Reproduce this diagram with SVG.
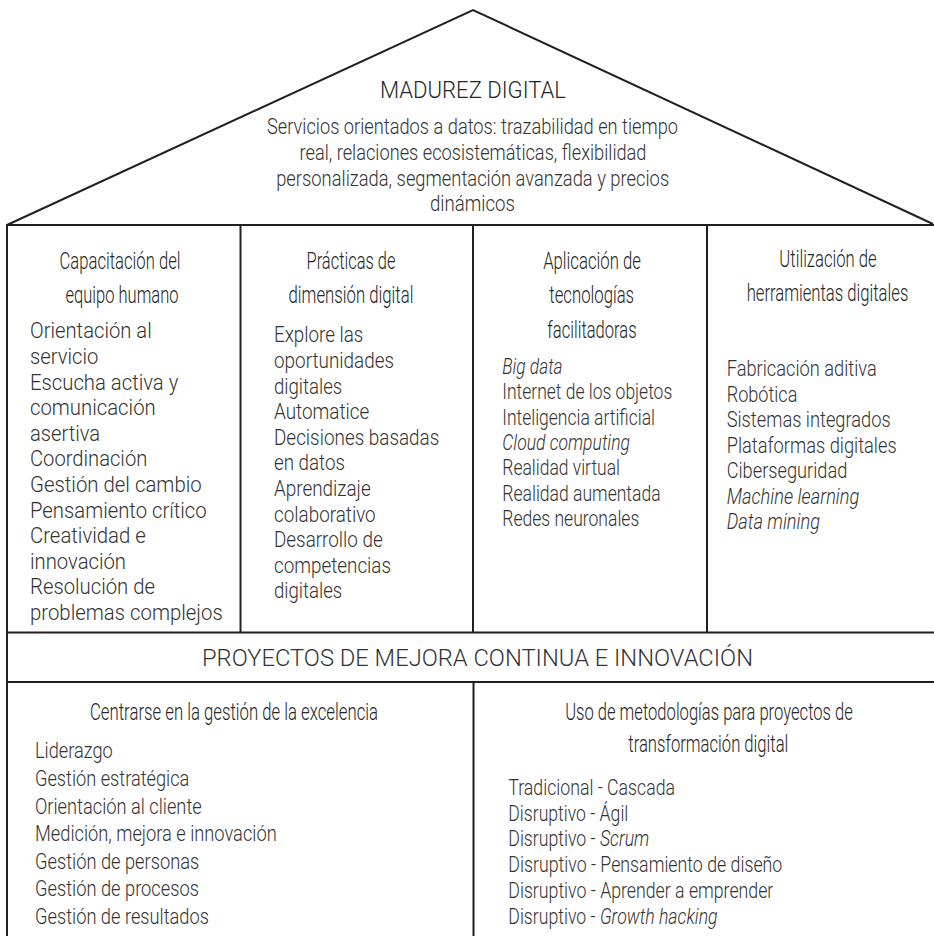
<svg xmlns="http://www.w3.org/2000/svg" width="934" height="936" viewBox="0 0 934 936">
<style>
text{font-family:Roboto,"Liberation Sans",sans-serif;font-weight:300;fill:#333;font-size:21.5px}
.h{text-anchor:middle;font-size:23px;fill:#262626}
.r{text-anchor:middle;font-size:22.5px}
.b{font-size:21.5px}
.it{font-style:italic}
.big{font-size:24px;text-anchor:middle}
.ln{stroke:#231f20;stroke-width:2;fill:none}
</style>
<rect width="934" height="936" fill="#fff"/>
<g id="connectors">
<polyline class="ln" points="7,225 473,10 933,224"/>
<line class="ln" x1="6" y1="225" x2="934" y2="225"/>
<line class="ln" x1="7" y1="224" x2="7" y2="936"/>
<line class="ln" x1="240.5" y1="225" x2="240.5" y2="632"/>
<line class="ln" x1="473" y1="225" x2="473" y2="632"/>
<line class="ln" x1="707" y1="225" x2="707" y2="632"/>
<line class="ln" x1="7" y1="632.5" x2="934" y2="632.5"/>
<line class="ln" x1="7" y1="682" x2="934" y2="682"/>
<line class="ln" x1="473.5" y1="682" x2="473.5" y2="936"/>
</g>
<g id="roof">
<text class="r" x="473" y="98" style="font-size:23.5px;fill:#262626" textLength="186" lengthAdjust="spacingAndGlyphs">MADUREZ DIGITAL</text>
<text class="r" x="472.5" y="134" textLength="411" lengthAdjust="spacingAndGlyphs">Servicios orientados a datos: trazabilidad en tiempo</text>
<text class="r" x="473" y="160" textLength="347" lengthAdjust="spacingAndGlyphs">real, relaciones ecosistemáticas, flexibilidad</text>
<text class="r" x="472.7" y="185.5" textLength="393" lengthAdjust="spacingAndGlyphs">personalizada, segmentación avanzada y precios</text>
<text class="r" x="472.5" y="210.5" textLength="85" lengthAdjust="spacingAndGlyphs">dinámicos</text>
</g>
<g id="col1">
<text class="h" x="120" y="269.3" textLength="121" lengthAdjust="spacingAndGlyphs">Capacitación del</text>
<text class="h" x="122" y="302.7" textLength="113" lengthAdjust="spacingAndGlyphs">equipo humano</text>
<text x="30" y="338.3" textLength="121.7" lengthAdjust="spacingAndGlyphs">Orientación al</text>
<text x="30" y="363.9" textLength="68.3" lengthAdjust="spacingAndGlyphs">servicio</text>
<text x="30" y="389.5" textLength="148.3" lengthAdjust="spacingAndGlyphs">Escucha activa y</text>
<text x="30" y="415.1" textLength="125.7" lengthAdjust="spacingAndGlyphs">comunicación</text>
<text x="30" y="440.7" textLength="70" lengthAdjust="spacingAndGlyphs">asertiva</text>
<text x="30" y="466.3" textLength="117.3" lengthAdjust="spacingAndGlyphs">Coordinación</text>
<text x="30" y="491.9" textLength="171.7" lengthAdjust="spacingAndGlyphs">Gestión del cambio</text>
<text x="30" y="517.5" textLength="176.7" lengthAdjust="spacingAndGlyphs">Pensamiento crítico</text>
<text x="30" y="543.1" textLength="115.7" lengthAdjust="spacingAndGlyphs">Creatividad e</text>
<text x="30" y="568.7" textLength="96" lengthAdjust="spacingAndGlyphs">innovación</text>
<text x="30" y="594.3" textLength="125" lengthAdjust="spacingAndGlyphs">Resolución de</text>
<text x="30" y="619.9" textLength="192.7" lengthAdjust="spacingAndGlyphs">problemas complejos</text>
</g>
<g id="col2">
<text class="h" x="351" y="269.3" textLength="89" lengthAdjust="spacingAndGlyphs">Prácticas de</text>
<text class="h" x="351" y="302.7" textLength="125" lengthAdjust="spacingAndGlyphs">dimensión digital</text>
<text x="274" y="342.3" textLength="89.3" lengthAdjust="spacingAndGlyphs">Explore las</text>
<text x="274" y="367.9" textLength="120" lengthAdjust="spacingAndGlyphs">oportunidades</text>
<text x="274" y="393.5" textLength="68.3" lengthAdjust="spacingAndGlyphs">digitales</text>
<text x="274" y="419.1" textLength="95.3" lengthAdjust="spacingAndGlyphs">Automatice</text>
<text x="274" y="444.7" textLength="165.3" lengthAdjust="spacingAndGlyphs">Decisiones basadas</text>
<text x="274" y="470.3" textLength="71" lengthAdjust="spacingAndGlyphs">en datos</text>
<text x="274" y="495.9" textLength="96.7" lengthAdjust="spacingAndGlyphs">Aprendizaje</text>
<text x="274" y="521.5" textLength="101.7" lengthAdjust="spacingAndGlyphs">colaborativo</text>
<text x="274" y="547.1" textLength="108.7" lengthAdjust="spacingAndGlyphs">Desarrollo de</text>
<text x="274" y="572.7" textLength="117" lengthAdjust="spacingAndGlyphs">competencias</text>
<text x="274" y="598.3" textLength="68.3" lengthAdjust="spacingAndGlyphs">digitales</text>
</g>
<g id="col3">
<text class="h" x="592" y="269.3" textLength="97.7" lengthAdjust="spacingAndGlyphs">Aplicación de</text>
<text class="h" x="591.7" y="302.7" textLength="84.7" lengthAdjust="spacingAndGlyphs">tecnologías</text>
<text class="h" x="592" y="338.3" textLength="89.3" lengthAdjust="spacingAndGlyphs">facilitadoras</text>
<text class="it" x="502.3" y="374" textLength="60.3" lengthAdjust="spacingAndGlyphs">Big data</text>
<text x="502.3" y="399.3" textLength="170" lengthAdjust="spacingAndGlyphs">Internet de los objetos</text>
<text x="502.3" y="424.7" textLength="152.7" lengthAdjust="spacingAndGlyphs">Inteligencia artificial</text>
<text class="it" x="502.3" y="450" textLength="127.7" lengthAdjust="spacingAndGlyphs">Cloud computing</text>
<text x="502.3" y="475.3" textLength="117.7" lengthAdjust="spacingAndGlyphs">Realidad virtual</text>
<text x="502.3" y="500.7" textLength="158.3" lengthAdjust="spacingAndGlyphs">Realidad aumentada</text>
<text x="502.3" y="526" textLength="137" lengthAdjust="spacingAndGlyphs">Redes neuronales</text>
</g>
<g id="col4">
<text class="h" x="828" y="266.7" textLength="97.3" lengthAdjust="spacingAndGlyphs">Utilización de</text>
<text class="h" x="827.5" y="300.7" textLength="161.7" lengthAdjust="spacingAndGlyphs">herramientas digitales</text>
<text x="726.7" y="376" textLength="150" lengthAdjust="spacingAndGlyphs">Fabricación aditiva</text>
<text x="726.7" y="401.6" textLength="70.7" lengthAdjust="spacingAndGlyphs">Robótica</text>
<text x="726.7" y="427.1" textLength="164" lengthAdjust="spacingAndGlyphs">Sistemas integrados</text>
<text x="726.7" y="452.7" textLength="170" lengthAdjust="spacingAndGlyphs">Plataformas digitales</text>
<text x="726.7" y="478.2" textLength="120.7" lengthAdjust="spacingAndGlyphs">Ciberseguridad</text>
<text class="it" x="726.7" y="503.8" textLength="132.7" lengthAdjust="spacingAndGlyphs">Machine learning</text>
<text class="it" x="726.7" y="529.3" textLength="93.3" lengthAdjust="spacingAndGlyphs">Data mining</text>
</g>
<g id="band">
<text class="big" x="477.5" y="666" textLength="551" lengthAdjust="spacingAndGlyphs">PROYECTOS DE MEJORA CONTINUA E INNOVACIÓN</text>
</g>
<g id="bottom-left">
<text class="h" x="234" y="720" textLength="288" lengthAdjust="spacingAndGlyphs">Centrarse en la gestión de la excelencia</text>
<text class="b" x="35" y="758.3" textLength="77.7" lengthAdjust="spacingAndGlyphs">Liderazgo</text>
<text class="b" x="35" y="785.9" textLength="154.3" lengthAdjust="spacingAndGlyphs">Gestión estratégica</text>
<text class="b" x="35" y="813.5" textLength="166.7" lengthAdjust="spacingAndGlyphs">Orientación al cliente</text>
<text class="b" x="35" y="841.1" textLength="241.7" lengthAdjust="spacingAndGlyphs">Medición, mejora e innovación</text>
<text class="b" x="35" y="868.8" textLength="164.3" lengthAdjust="spacingAndGlyphs">Gestión de personas</text>
<text class="b" x="35" y="896.4" textLength="164" lengthAdjust="spacingAndGlyphs">Gestión de procesos</text>
<text class="b" x="35" y="924" textLength="174" lengthAdjust="spacingAndGlyphs">Gestión de resultados</text>
</g>
<g id="bottom-right">
<text class="h" x="709" y="720" textLength="287.7" lengthAdjust="spacingAndGlyphs">Uso de metodologías para proyectos de</text>
<text class="h" x="708.3" y="751.7" textLength="160" lengthAdjust="spacingAndGlyphs">transformación digital</text>
<text class="b" x="508.3" y="795" textLength="166.7" lengthAdjust="spacingAndGlyphs">Tradicional - Cascada</text>
<text class="b" x="508.3" y="820.7" textLength="120" lengthAdjust="spacingAndGlyphs">Disruptivo - Ágil</text>
<text class="b" x="508.3" y="846.4" textLength="141" lengthAdjust="spacingAndGlyphs">Disruptivo - <tspan class="it">Scrum</tspan></text>
<text class="b" x="508.3" y="872" textLength="274" lengthAdjust="spacingAndGlyphs">Disruptivo - Pensamiento de diseño</text>
<text class="b" x="508.3" y="897.8" textLength="265" lengthAdjust="spacingAndGlyphs">Disruptivo - Aprender a emprender</text>
<text class="b" x="508.3" y="923.5" textLength="209.3" lengthAdjust="spacingAndGlyphs">Disruptivo - <tspan class="it">Growth hacking</tspan></text>
</g>
</svg>
